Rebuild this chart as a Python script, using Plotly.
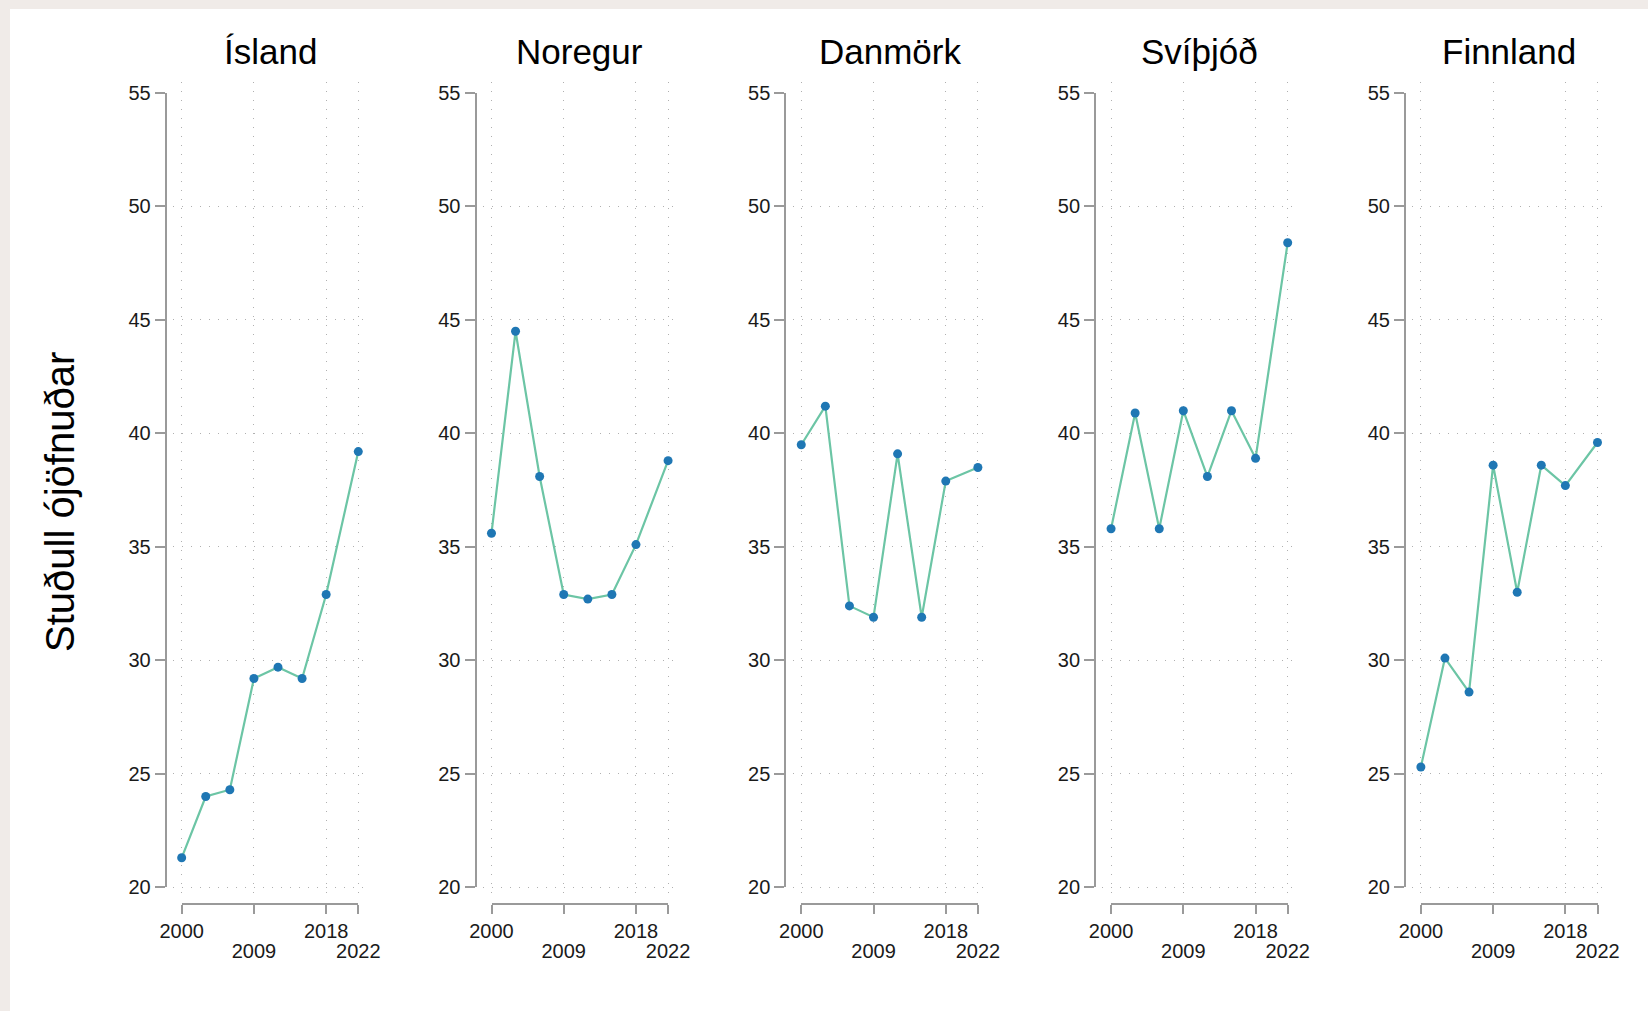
import plotly.graph_objs as go

# Data
years = [2000, 2003, 2006, 2009, 2012, 2015, 2018, 2022]
countries = ["Ísland", "Noregur", "Danmörk", "Svíþjóð", "Finnland"]
island = [21.3, 24.0, 24.3, 29.2, 29.7, 29.2, 32.9, 39.2]
noregur = [35.6, 44.5, 38.1, 32.9, 32.7, 32.9, 35.1, 38.8]
danmork = [39.5, 41.2, 32.4, 31.9, 39.1, 31.9, 37.9, 38.5]
svithjod = [35.8, 40.9, 35.8, 41.0, 38.1, 41.0, 38.9, 48.4]
finnland = [25.3, 30.1, 28.6, 38.6, 33.0, 38.6, 37.7, 39.6]
series = [island, noregur, danmork, svithjod, finnland]

x_ticks = [2000, 2009, 2018, 2022]
x_ticks_upper = [2000, 2018]   # first row of labels
x_ticks_lower = [2009, 2022]   # staggered second row
y_ticks = [20, 25, 30, 35, 40, 45, 50, 55]
y_title = "Stuðull ójöfnuðar"

W, H = 1648, 1011
FONT = "Liberation Sans, Arial, sans-serif"
LINE_COLOR = "#6cc5a5"
MARKER_COLOR = "#1f77b4"
AXIS_COLOR = "#9a9a9a"
GRID_COLOR = "#b0b0b0"
FRAME_COLOR = "#f0ebe8"
TICK_FONT = dict(family=FONT, size=20, color="#1a1a1a")


def fx(px):
    return px / W


def fy(py):
    return 1 - py / H


def build_figure():
    fig = go.Figure()
    layout = {}
    annotations = []
    step = 309.8

    for i, (name, vals) in enumerate(zip(countries, series)):
        dx = i * step
        n = i + 1          # data subplot
        m = i + 6          # axis-only subplot
        k = i + 11         # second row of x labels

        # data subplot with dotted grid
        fig.add_trace(go.Scatter(
            x=years, y=vals, mode="lines+markers",
            line=dict(color=LINE_COLOR, width=2.2),
            marker=dict(color=MARKER_COLOR, size=9),
            xaxis=f"x{n}", yaxis=f"y{n}", showlegend=False,
            cliponaxis=False, hoverinfo="x+y"))
        layout[f"xaxis{n}"] = dict(
            domain=[fx(173 + dx), fx(370 + dx)], range=[1998.92, 2023.46],
            anchor=f"y{n}", tickvals=x_ticks, showticklabels=False,
            showgrid=True, gridcolor=GRID_COLOR, gridwidth=1, griddash="1px,8px",
            zeroline=False, showline=False, ticks="", fixedrange=True)
        layout[f"yaxis{n}"] = dict(
            domain=[fy(895), fy(82)], range=[19.66, 55.485],
            anchor=f"x{n}", tickvals=y_ticks[:-1], showticklabels=False,
            showgrid=True, gridcolor=GRID_COLOR, gridwidth=1, griddash="1px,8px",
            zeroline=False, showline=False, ticks="", fixedrange=True)

        # offset axis lines, ticks and labels
        fig.add_trace(go.Scatter(
            x=[2000], y=[20], mode="markers", opacity=0,
            xaxis=f"x{m}", yaxis=f"y{m}", showlegend=False, hoverinfo="skip"))
        fig.add_trace(go.Scatter(
            x=[2000], y=[20], mode="markers", opacity=0,
            xaxis=f"x{k}", yaxis=f"y{m}", showlegend=False, hoverinfo="skip"))
        x_common = dict(
            domain=[fx(181.7 + dx), fx(358.3 + dx)], range=[2000, 2022],
            anchor="free", position=fy(904), tickangle=0,
            ticks="outside", ticklen=9, tickwidth=2, tickcolor=AXIS_COLOR,
            showline=True, linecolor=AXIS_COLOR, linewidth=2,
            showgrid=False, zeroline=False, fixedrange=True,
            tickfont=TICK_FONT)
        layout[f"xaxis{m}"] = dict(x_common, tickvals=x_ticks_upper)
        layout[f"xaxis{k}"] = dict(x_common, tickvals=x_ticks_lower,
                                   ticklabelstandoff=20)
        layout[f"yaxis{m}"] = dict(
            domain=[fy(887.3), fy(93)], range=[20, 55],
            anchor="free", position=fx(165.7 + dx),
            tickvals=y_ticks,
            ticks="outside", ticklen=10, tickwidth=2, tickcolor=AXIS_COLOR,
            showline=True, linecolor=AXIS_COLOR, linewidth=2,
            showgrid=False, zeroline=False, fixedrange=True,
            tickfont=TICK_FONT)

        annotations.append(dict(
            text=name, x=fx(270 + dx), y=fy(52), xref="paper", yref="paper",
            showarrow=False, xanchor="center", yanchor="middle",
            font=dict(family=FONT, size=35, color="#000000")))

    annotations.append(dict(
        text=y_title, x=fx(60), y=fy(502), xref="paper", yref="paper",
        showarrow=False, textangle=-90, xanchor="center", yanchor="middle",
        font=dict(family=FONT, size=40, color="#000000")))

    # beige frame strips on top and left
    shapes = [
        dict(type="rect", xref="paper", yref="paper", x0=0, x1=1, y0=fy(9), y1=1,
             fillcolor=FRAME_COLOR, line=dict(width=0), layer="above"),
        dict(type="rect", xref="paper", yref="paper", x0=0, x1=fx(10), y0=0, y1=1,
             fillcolor=FRAME_COLOR, line=dict(width=0), layer="above"),
    ]

    fig.update_layout(
        width=W, height=H, autosize=False,
        margin=dict(l=0, r=0, t=0, b=0, pad=0, autoexpand=False),
        paper_bgcolor="#ffffff", plot_bgcolor="rgba(0,0,0,0)",
        annotations=annotations, shapes=shapes,
        font=dict(family=FONT),
        **layout)
    return fig


fig = build_figure()
fig.write_html("out.html", config={"displayModeBar": False},
               post_script="document.body.style.margin='0';document.body.style.overflow='hidden';")
